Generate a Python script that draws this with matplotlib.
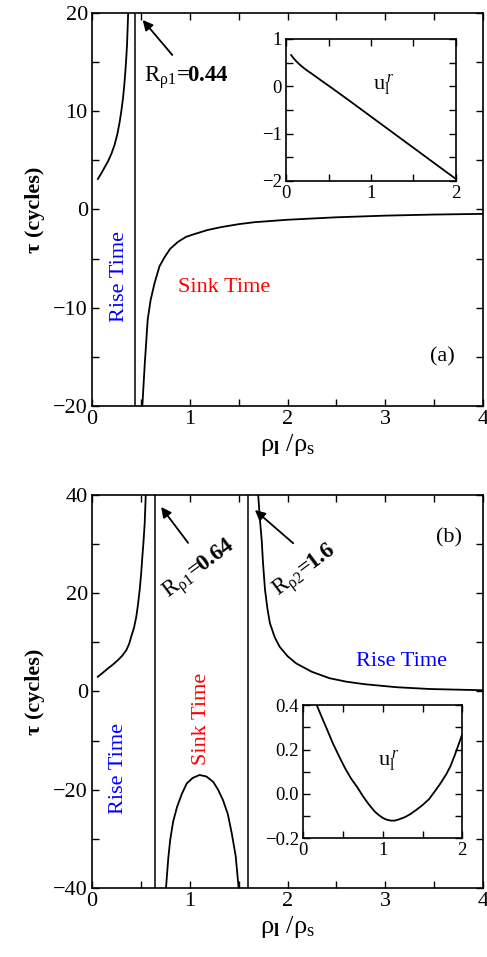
import matplotlib
matplotlib.use('Agg')
import matplotlib.pyplot as plt
from matplotlib.ticker import MultipleLocator

plt.rcParams['font.family'] = ['Liberation Serif', 'DejaVu Serif']
plt.rcParams['mathtext.fontset'] = 'custom'
plt.rcParams['mathtext.rm'] = 'Liberation Serif'
plt.rcParams['mathtext.it'] = 'Liberation Serif:italic'
plt.rcParams['mathtext.bf'] = 'Liberation Serif:bold'

### Datos leidos de la figura
# panel (a)
a_x_left = [0.06, 0.10, 0.13, 0.164, 0.20, 0.232, 0.26, 0.283, 0.30, 0.317, 0.33,
            0.341, 0.35, 0.358, 0.364, 0.37]
a_y_left = [3.1, 3.75, 4.3, 4.9, 5.7, 6.6, 7.7, 8.9, 10.0, 11.3, 12.6,
            14.0, 15.3, 16.7, 18.3, 20.0]
a_x_right = [0.515, 0.54, 0.57, 0.60, 0.64, 0.69, 0.74, 0.80, 0.88, 0.96, 1.05, 1.18,
             1.32, 1.5, 1.66, 2.0, 2.5, 3.0, 3.5, 4.0]
a_y_right = [-20, -15.7, -11.2, -9.2, -7.5, -5.8, -4.9, -4.0, -3.3, -2.8, -2.5, -2.1,
             -1.8, -1.5, -1.3, -1.05, -0.8, -0.63, -0.52, -0.45]
a_asym = 0.44
# inset (a)
ia_x = [0.06, 0.09, 0.12, 0.16, 0.20, 0.25, 0.30, 0.40, 0.55, 0.75, 1.0, 1.25, 1.5,
        1.75, 2.0]
ia_y = [0.66, 0.59, 0.53, 0.46, 0.40, 0.33, 0.27, 0.14, -0.05, -0.31, -0.64, -0.97,
        -1.30, -1.63, -1.96]

# panel (b)
b_x_left = [0.06, 0.11, 0.164, 0.215, 0.266, 0.31, 0.351, 0.38, 0.402, 0.43, 0.453,
            0.47, 0.488, 0.503, 0.515, 0.528, 0.539, 0.55]
b_y_left = [3.0, 3.8, 4.7, 5.5, 6.4, 7.3, 8.4, 9.7, 11.2, 13.0, 15.2,
            17.6, 20.7, 24.0, 27.4, 30.8, 34.2, 40]
b_x_mid = [0.757, 0.78, 0.80, 0.83, 0.87, 0.92, 0.97, 1.03, 1.1, 1.17, 1.24, 1.29, 1.34,
           1.39, 1.43, 1.47, 1.50]
b_y_mid = [-40, -34.0, -30.2, -26.5, -23.5, -20.8, -18.7, -17.6, -17.0, -17.3, -18.4,
           -20.0, -22.1, -25.0, -28.9, -33.5, -40]
b_x_right = [1.70, 1.72, 1.736, 1.75, 1.77, 1.795, 1.82, 1.87, 1.92, 2.0, 2.09, 2.25,
             2.43, 2.6, 2.78, 3.12, 3.46, 4.0]
b_y_right = [40, 34.5, 30.8, 26.0, 20.7, 16.8, 13.9, 11.0, 9.1, 7.2, 5.7, 4.0,
             2.7, 2.0, 1.5, 0.86, 0.5, 0.25]
b_asym = [0.64, 1.6]
# inset (b)
ib_x = [0.17, 0.24, 0.3, 0.37, 0.45, 0.52, 0.6, 0.68, 0.75, 0.82, 0.9, 0.95, 1.0, 1.05,
        1.1, 1.15, 1.2, 1.28, 1.35, 1.42, 1.5, 1.58, 1.65, 1.72, 1.8, 1.85, 1.9, 1.95, 2.0]
ib_y = [0.40, 0.34, 0.29, 0.23, 0.17, 0.12, 0.07, 0.03, -0.01, -0.045, -0.08, -0.095,
        -0.108, -0.116, -0.12, -0.12, -0.115, -0.104, -0.09, -0.072, -0.05, -0.024,
        0.01, 0.045, 0.09, 0.125, 0.17, 0.22, 0.27]


def style(ax, xmaj, xmin, ymaj, ymin, fs):
    ax.xaxis.set_major_locator(MultipleLocator(xmaj))
    ax.xaxis.set_minor_locator(MultipleLocator(xmin))
    ax.yaxis.set_major_locator(MultipleLocator(ymaj))
    ax.yaxis.set_minor_locator(MultipleLocator(ymin))
    ax.tick_params(which='both', direction='in', top=True, right=True,
                   labelsize=fs, width=1.0, pad=3)
    ax.tick_params(which='major', length=5)
    ax.tick_params(which='minor', length=5)
    for s in ax.spines.values():
        s.set_linewidth(1.2)


def rlabel(n, val):
    # R_rho sin espacios alrededor del signo igual
    return r'$\mathrm{R}_{\mathrm{ρ%s}}\!\mathbf{=}\!\!\mathbf{%s}$' % (n, val)


xlab = 'ρ$_{\\mathbf{l}}$ /ρ$_{\\rm s}$'
ylab = 'τ (cycles)'
fs = 16

fig = plt.figure(figsize=(4.87, 9.57), dpi=100)

### Panel (a)
ax1 = fig.add_axes([0.1889, 0.5758, 0.8029, 0.4107])
ax1.plot(a_x_left, a_y_left, color='k', lw=1.3)
ax1.plot(a_x_right, a_y_right, color='k', lw=1.3)
ax1.axvline(a_asym, color='k', lw=1.1)
ax1.set_xlim(0, 4)
ax1.set_ylim(-20, 20)
style(ax1, 1, 0.5, 10, 5, fs)
ax1.set_ylabel(ylab, fontsize=16, fontweight='bold', labelpad=6)
ax1.set_xlabel(xlab, fontsize=19, labelpad=2)
ax1.annotate('', xy=(0.50, 19.5), xytext=(0.84, 15.5),
             arrowprops=dict(arrowstyle='-|>', color='k', lw=1.3, mutation_scale=15))
ax1.text(0.53, 13.4, rlabel('1', '0.44'), fontsize=16.5, va='center')
ax1.text(0.28, -6.8, 'Rise Time', color='blue', rotation=90, fontsize=fs,
         ha='center', va='center')
ax1.text(1.35, -7.9, 'Sink Time', color='red', fontsize=fs, ha='center', va='center')
ax1.text(3.58, -15, '(a)', fontsize=fs, ha='center', va='center')

ins1 = fig.add_axes([0.5873, 0.8109, 0.349, 0.1484])
ins1.plot(ia_x, ia_y, color='k', lw=1.3)
ins1.set_xlim(0, 2)
ins1.set_ylim(-2, 1)
style(ins1, 1, 0.5, 1, 0.5, 13.5)
ins1.text(1.15, 0.03, r'$\mathrm{u}_{\rm l}^{\,r}$', fontsize=16, ha='center', va='center')

### Panel (b)
ax2 = fig.add_axes([0.1889, 0.0721, 0.8029, 0.4107])
ax2.plot(b_x_left, b_y_left, color='k', lw=1.3)
ax2.plot(b_x_mid, b_y_mid, color='k', lw=1.3)
ax2.plot(b_x_right, b_y_right, color='k', lw=1.3)
for xa in b_asym:
    ax2.axvline(xa, color='k', lw=1.1)
ax2.set_xlim(0, 4)
ax2.set_ylim(-40, 40)
style(ax2, 1, 0.5, 20, 10, fs)
ax2.set_ylabel(ylab, fontsize=16, fontweight='bold', labelpad=6)
ax2.set_xlabel(xlab, fontsize=19, labelpad=2)
ax2.annotate('', xy=(0.69, 38.0), xytext=(1.0, 29.8),
             arrowprops=dict(arrowstyle='-|>', color='k', lw=1.3, mutation_scale=15))
ax2.annotate('', xy=(1.645, 37.3), xytext=(2.08, 29.8),
             arrowprops=dict(arrowstyle='-|>', color='k', lw=1.3, mutation_scale=15))
ax2.text(1.10, 24.7, rlabel('1', '0.64'), fontsize=16.5, rotation=37,
         ha='center', va='center', rotation_mode='anchor')
ax2.text(2.18, 24.4, rlabel('2', '1.6'), fontsize=16.5, rotation=37,
         ha='center', va='center', rotation_mode='anchor')
ax2.text(0.276, -15.6, 'Rise Time', color='blue', rotation=90, fontsize=fs,
         ha='center', va='center')
ax2.text(1.12, -5.5, 'Sink Time', color='red', rotation=90, fontsize=fs,
         ha='center', va='center')
ax2.text(3.17, 6.1, 'Rise Time', color='blue', fontsize=fs, ha='center', va='center')
ax2.text(3.65, 31.2, '(b)', fontsize=fs, ha='center', va='center')

ins2 = fig.add_axes([0.6228, 0.124, 0.3265, 0.139])
ins2.plot(ib_x, ib_y, color='k', lw=1.3)
ins2.set_xlim(0, 2)
ins2.set_ylim(-0.2, 0.4)
style(ins2, 1, 0.5, 0.2, 0.1, 13.5)
ins2.text(1.07, 0.146, r'$\mathrm{u}_{\rm l}^{\,r}$', fontsize=16, ha='center', va='center')

plt.savefig('out.png', dpi=100)
